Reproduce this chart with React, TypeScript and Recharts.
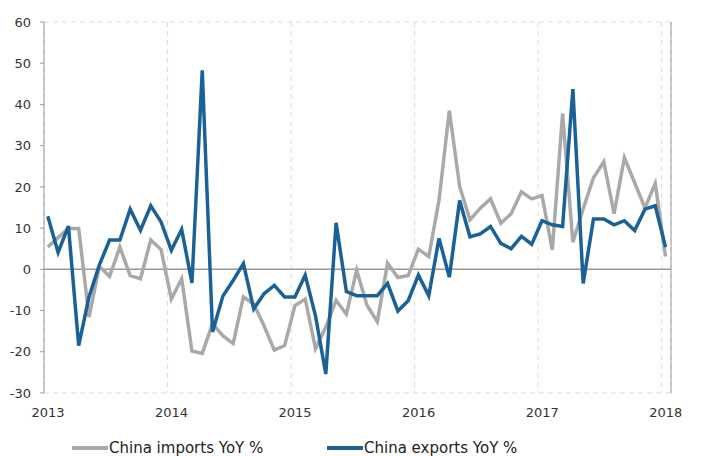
import React from "react";
import {
  LineChart,
  Line,
  XAxis,
  YAxis,
  CartesianGrid,
  ReferenceLine,
  Legend
} from "recharts";

// monthly, Jan 2013 .. Jan 2018
const importsYoY = [
  5.4, 7.7, 9.9, 9.9, -11.6, 0.7, -1.7, 5.4, -1.5, -2.3, 7.1, 4.8,
  -7.2, -2.3, -19.8, -20.4, -13.2, -16.1, -18.0, -6.7, -8.4, -13.7, -19.6, -18.5,
  -8.8, -7.2, -19.2, -14.0, -7.5, -10.9, -0.2, -8.7, -12.7, 1.5, -2.0, -1.5,
  4.9, 3.1, 16.8, 38.5, 20.1, 12.0, 14.8, 17.1, 11.2, 13.5, 18.8, 17.1,
  17.9, 4.7, 37.8, 6.6, 14.7, 22.2, 26.1, 13.5, 27.1, 21.0, 14.9, 20.8,
  3.1
];

const exportsYoY = [
  12.9, 4.1, 10.5, -18.5, -6.7, 1.0, 7.1, 7.1, 14.6, 9.5, 15.4, 11.5,
  4.6, 9.7, -3.3, 48.3, -15.2, -6.5, -2.7, 1.4, -9.6, -5.9, -3.9, -6.7,
  -6.7, -1.4, -11.3, -25.4, 11.3, -5.4, -6.4, -6.4, -6.4, -3.4, -10.1, -7.6,
  -1.4, -6.4, 7.5, -1.9, 16.7, 7.9, 8.6, 10.4, 6.3, 5.0, 8.0, 6.1,
  11.8, 10.8, 10.4, 43.7, -3.4, 12.2, 12.2, 10.8, 11.8, 9.4, 14.6, 15.4,
  5.4
];

const yearTicks = [0, 12, 24, 36, 48, 60];
const yearLabels = ["2013", "2014", "2015", "2016", "2017", "2018"];
const valueTicks = [-30, -20, -10, 0, 10, 20, 30, 40, 50, 60];

const seriesNames = ["China imports YoY %", "China exports YoY %"];
const GREY = "#a9a9a9";
const BLUE = "#1a6198";
const FONT = "'DejaVu Sans', Verdana, sans-serif";

const chartData = importsYoY.map((v, i) => ({
  t: i + 0.37,
  imports: v,
  exports: exportsYoY[i]
}));

const YearTick = (props: any) => {
  const { x, y, payload } = props;
  const idx = yearTicks.indexOf(payload.value);
  return (
    <text x={x + 4} y={y + 22} textAnchor="middle" fontSize={13} fill="#333" fontFamily={FONT}>
      {yearLabels[idx]}
    </text>
  );
};

const LegendBox = () => (
  <div style={{ position: "relative", height: 33, fontFamily: FONT, fontSize: 15, color: "#222" }}>
    {[GREY, BLUE].map((c, i) => (
      <div
        key={i}
        style={{ position: "absolute", left: i === 0 ? 64 : 319, top: 16, display: "flex", alignItems: "center", whiteSpace: "nowrap" }}
      >
        <svg width={36} height={6}>
          <line x1={0} y1={3} x2={36} y2={3} stroke={c} strokeWidth={4} />
        </svg>
        <span style={{ marginLeft: 1 }}>{seriesNames[i]}</span>
      </div>
    ))}
  </div>
);

export default function App() {
  return (
    <LineChart
      width={697}
      height={448}
      data={chartData}
      margin={{ top: 14, right: 0, left: 0, bottom: 0 }}
    >
      <CartesianGrid stroke="#dcdcdc" strokeDasharray="5 4" />
      <XAxis
        dataKey="t"
        type="number"
        domain={[0, 60.9]}
        ticks={yearTicks}
        tick={<YearTick />}
        tickLine={false}
        axisLine={false}
        tickSize={0}
        height={30}
        allowDataOverflow
      />
      <YAxis
        yAxisId="left"
        domain={[-30, 60]}
        ticks={valueTicks}
        width={36}
        tickSize={4}
        tickMargin={9}
        stroke="#999"
        tick={{ fill: "#333", fontSize: 13, fontFamily: FONT }}
        interval={0}
      />
      <YAxis
        yAxisId="right"
        orientation="right"
        domain={[-30, 60]}
        ticks={valueTicks}
        width={34}
        tickSize={4}
        tickMargin={8}
        stroke="#999"
        tick={{ fill: "#333", fontSize: 13, fontFamily: FONT }}
        interval={0}
      />
      <ReferenceLine yAxisId="left" y={0} stroke="#999" strokeWidth={1.5} />
      <Line
        yAxisId="left"
        type="linear"
        dataKey="imports"
        stroke={GREY}
        strokeWidth={3.5}
        dot={false}
        isAnimationActive={false}
      />
      <Line
        yAxisId="left"
        type="linear"
        dataKey="exports"
        stroke={BLUE}
        strokeWidth={3.5}
        dot={false}
        isAnimationActive={false}
      />
      <Legend verticalAlign="bottom" height={33} content={<LegendBox />} wrapperStyle={{ left: 0, width: 697 }} />
    </LineChart>
  );
}
